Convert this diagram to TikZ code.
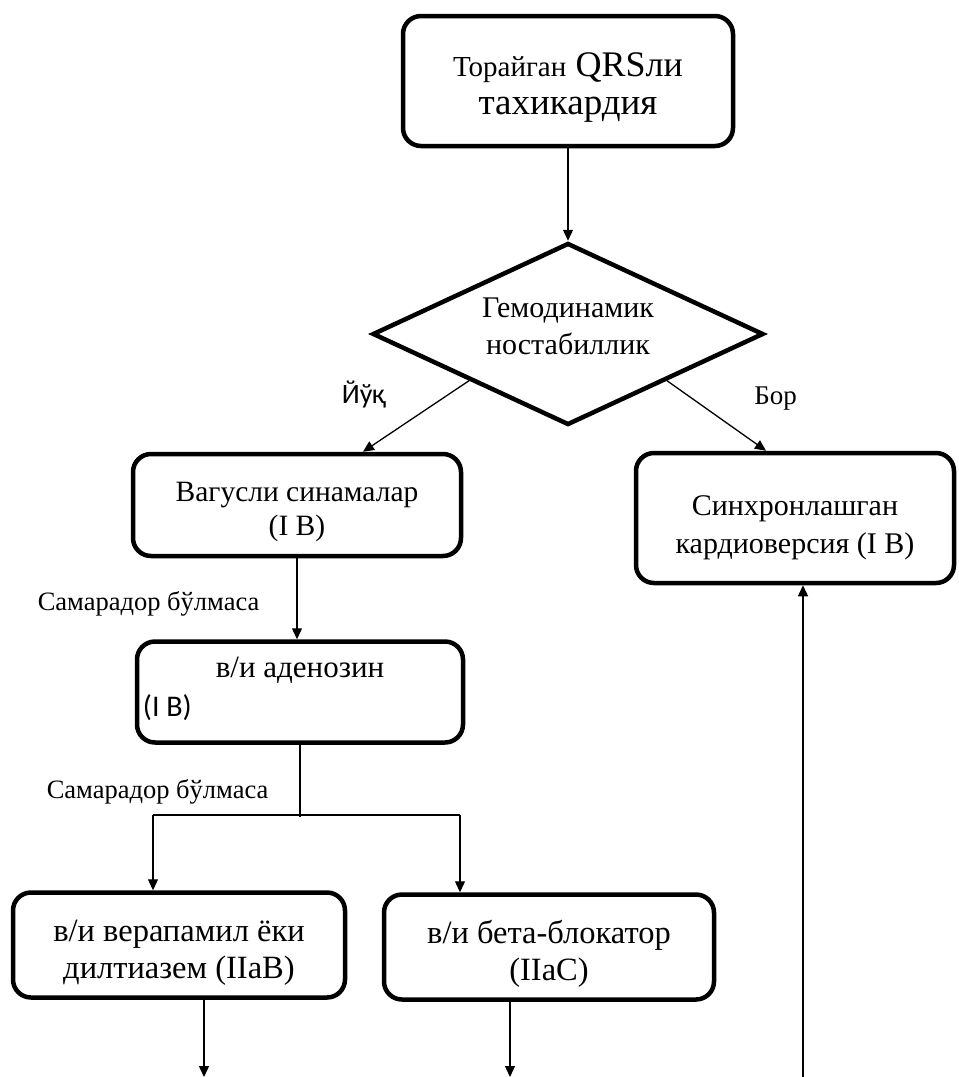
\documentclass[tikz,border=0pt]{standalone}
\usepackage{fontspec}
\setmainfont{Liberation Serif}
\newfontfamily\calib{Carlito}
\usetikzlibrary{arrows.meta, shapes.geometric, positioning}

\begin{document}
\begin{tikzpicture}[x=1pt,y=-1pt,>={Triangle[length=11pt,width=10pt]},node distance=1cm,
  box/.style={rectangle,rounded corners=18pt,draw,line width=4.5pt,align=center,inner sep=2pt,font=\fontsize{30}{38}\selectfont},
  cond/.style={diamond,aspect=2.15,draw,line width=4.5pt,align=center,inner sep=0pt,minimum width=391pt,minimum height=182pt,font=\fontsize{30}{37}\selectfont},
  lbl/.style={inner sep=0pt,font=\fontsize{26.5}{30}\selectfont},
  sanslbl/.style={inner sep=0pt,font=\calib\fontsize{28}{32}\selectfont}]
  \useasboundingbox (0,0) rectangle (959,1077);
  \node[box,minimum width=330pt,minimum height=130pt,text height=74pt,font=\fontsize{37}{38}\selectfont] (top) at (568,81) {{\fontsize{29}{34}\selectfont Торайган} {\fontsize{36}{38}\selectfont QRSли}\\тахикардия};
  \node[cond,text depth=16pt] (hemo) [below of=top,node distance=253pt] {Гемодинамик\\ностабиллик};

  %Йўқ
  \node[box,minimum width=328pt,minimum height=102pt,text height=67pt,font=\fontsize{29.5}{34}\selectfont] (vag) [below of=hemo,node distance=171pt,xshift=-271pt] {Вагусли синамалар\\(I B)};
  \node[box,minimum width=326pt,minimum height=101pt,font=\fontsize{31}{38}\selectfont] (aden) [below of=vag,node distance=187pt,xshift=3pt] {в/и аденозин\\ \strut};
  \node[sanslbl,font=\calib\fontsize{30}{34}\selectfont,anchor=west] (adenib) at ([xshift=8pt,yshift=-16pt]aden.west) {(I B)};
  \node[box,minimum width=332pt,minimum height=105pt,text height=73pt,font=\fontsize{32.5}{37}\selectfont] (vera) [below of=aden,node distance=253pt,xshift=-121pt] {в/и верапамил ёки\\дилтиазем (IIaB)};
  \node[box,minimum width=330pt,minimum height=105pt,text height=73pt,font=\fontsize{32.5}{37}\selectfont] (beta) [below of=aden,node distance=255pt,xshift=249pt] {в/и бета-блокатор\\(IIaC)};

  %Бор
  \node[box,minimum width=318pt,minimum height=130pt,text height=77pt] (syn) [below of=hemo,node distance=184pt,xshift=227pt] {Синхронлашган\\кардиоверсия (I B)};

  \coordinate (sp) at ([yshift=-72pt]aden.south);
  \coordinate (spl) at (153,815);
  \coordinate (spr) at (460,815);
  \coordinate (veraend) at (204,1077);
  \coordinate (betaend) at (510,1077);
  \coordinate (synstart) at (803,1077);

  \path[->,line width=1.3pt]
    (top) edge (hemo)
    (hemo.south west) edge node[sanslbl,pos=0.2,left=61pt] {Йўқ} ([xshift=66pt]vag.north)
    (hemo.south east) edge node[lbl,pos=0.25,right=62pt,font=\fontsize{27}{30}\selectfont] {Бор} ([xshift=-29pt]syn.north)
    (vag.south) edge node[lbl,pos=0.56,left=37pt] {Самарадор бўлмаса} (vag.south |- aden.north)
    (aden.south) edge[-] node[lbl,pos=0.65,left=31pt] {Самарадор бўлмаса} (sp)
    (spl) edge[-,line width=2pt] (spr)
    (spl) edge (spl |- vera.north)
    (spr) edge (spr |- beta.north)
    (vera.south -| veraend) edge (veraend)
    (beta.south -| betaend) edge (betaend)
    (synstart) edge (synstart |- syn.south);
\end{tikzpicture}
\end{document}
